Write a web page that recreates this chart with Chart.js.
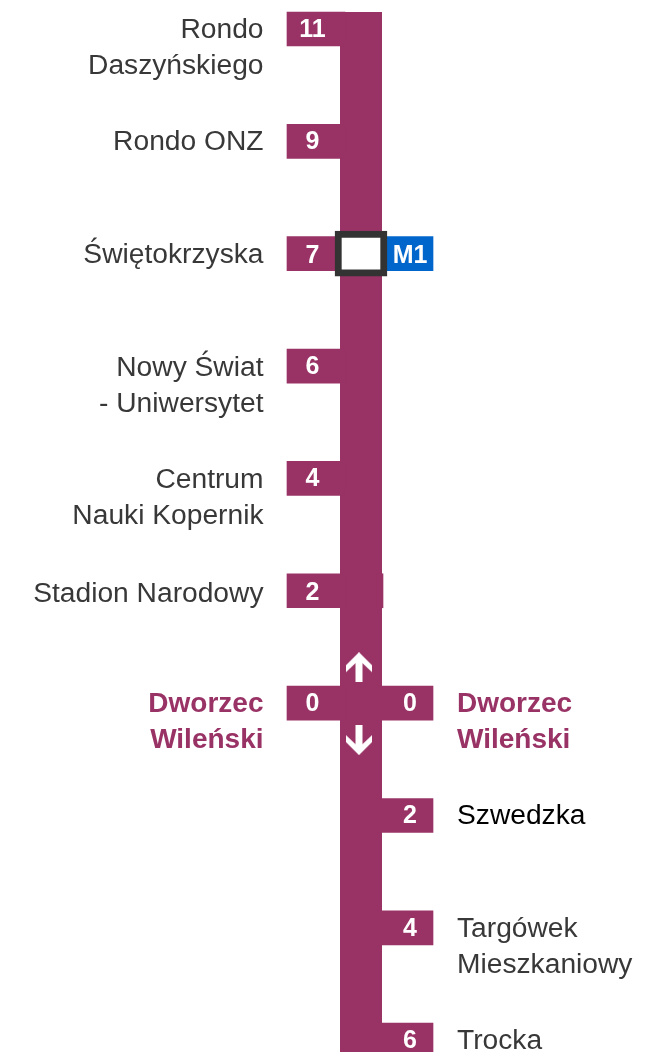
<!DOCTYPE html>
<html>
<head>
<meta charset="utf-8">
<title>Linia M2</title>
<script src="https://cdn.jsdelivr.net/npm/chart.js@4"></script>
<style>
    html, body { margin: 0; padding: 0; background: #fff; }
    canvas { display: block; }
</style>
</head>
<body>
<canvas id="grafico" width="659" height="1052"></canvas>
<script>
// Stops from top to bottom, y position is the index in these arrays
const paradas = [
    ['Rondo', 'Daszyńskiego'],
    ['Rondo ONZ'],
    ['Świętokrzyska'],
    ['Nowy Świat', '- Uniwersytet'],
    ['Centrum', 'Nauki Kopernik'],
    ['Stadion Narodowy'],
    ['Dworzec', 'Wileński'],
    ['Szwedzka'],
    ['Targówek', 'Mieszkaniowy'],
    ['Trocka']
];
// Minutes from Dworzec Wileński in each direction
const minutosOeste = [11, 9, 7, 6, 4, 2, 0, null, null, null];
const minutosEste = [null, null, null, null, null, null, 0, 2, 4, 6];
const paradaTerminal = 6;
const paradaCambio = 2;
const lineaCambio = 'M1';
const lineaExtremos = [-0.151, 9.2];
const flechas = [5.68, 6.33];

const morado = '#993366';
const azul = '#0066cc';
const oscuro = '#383838';

// small vertical nudges for the labels, in pixels
const ajusteTexto = [0, 0, 1, 1, 1, 2, 0, 0, 0, 0];
const ajusteNumero = [0, 0, 1, 0, 0, 1, 0, 0, 0, 0];

const iconoFlecha = document.createElement('canvas');
iconoFlecha.width = 26;
iconoFlecha.height = 30;
const ic = iconoFlecha.getContext('2d');
ic.fillStyle = '#fff';
ic.beginPath();
[[13, 0], [26, 13], [26, 20], [16.5, 11], [16.5, 30], [9.5, 30], [9.5, 11], [0, 20], [0, 13]]
    .forEach(p => ic.lineTo(p[0], p[1]));
ic.closePath();
ic.fill();

function tramos(minutos, desde, hasta) {
    const salida = [];
    minutos.forEach((m, i) => {
        if (m !== null) salida.push({ x: [desde, hasta], y: i });
    });
    return salida;
}

const textos = {
    id: 'textos',
    afterDatasetsDraw(chart) {
        const ctx = chart.ctx;
        const y = chart.scales.y;
        ctx.save();
        ctx.textBaseline = 'middle';

        paradas.forEach((lineas, i) => {
            const yPos = y.getPixelForValue(i) + ajusteTexto[i];
            const terminal = i === paradaTerminal;
            ctx.font = terminal ? 'bold 28px "Liberation Sans"' : '28.2px "Liberation Sans"';
            ctx.fillStyle = terminal ? morado : (i === 7 ? '#000' : oscuro);
            if (minutosOeste[i] !== null) {
                ctx.textAlign = 'right';
                lineas.forEach((t, n) => ctx.fillText(t, 263.5, yPos + 1 + n * 36));
            }
            if (minutosEste[i] !== null) {
                ctx.textAlign = 'left';
                lineas.forEach((t, n) => ctx.fillText(t, 457, yPos + 1 + n * 36));
            }
        });

        ctx.font = 'bold 25px "Liberation Sans"';
        ctx.fillStyle = '#fff';
        ctx.textAlign = 'center';
        minutosOeste.forEach((m, i) => {
            if (m !== null) ctx.fillText(String(m), 312.5, y.getPixelForValue(i) + 1 + ajusteNumero[i]);
        });
        minutosEste.forEach((m, i) => {
            if (m !== null) ctx.fillText(String(m), 410, y.getPixelForValue(i) + 1);
        });
        ctx.fillText(lineaCambio, 410, y.getPixelForValue(paradaCambio) + 1 + ajusteNumero[paradaCambio]);
        ctx.restore();
    }
};

new Chart(document.getElementById('grafico').getContext('2d'), {
    type: 'bar',
    data: {
        datasets: [
            {
                type: 'line',
                data: lineaExtremos.map(v => ({ x: 361, y: v })),
                borderColor: morado,
                borderWidth: 42,
                borderCapStyle: 'butt',
                pointRadius: 0,
                order: 6
            },
            {
                data: tramos(minutosOeste, 287, 345),
                backgroundColor: morado,
                barThickness: 34,
                grouped: false,
                order: 5
            },
            {
                data: tramos(minutosEste, 377, 433),
                backgroundColor: morado,
                barThickness: 34,
                grouped: false,
                order: 5
            },
            {
                data: [{ x: [377, 383], y: 5 }],
                backgroundColor: morado,
                barThickness: 34,
                grouped: false,
                order: 5
            },
            {
                data: [{ x: [387, 433], y: paradaCambio }],
                backgroundColor: azul,
                barThickness: 34,
                grouped: false,
                order: 4
            },
            {
                data: [{ x: [335, 387], y: paradaCambio }],
                backgroundColor: '#fff',
                borderColor: '#333',
                borderWidth: 7,
                borderSkipped: false,
                barThickness: 45,
                grouped: false,
                order: 3
            },
            {
                type: 'scatter',
                data: [{ x: 359, y: flechas[0] }],
                pointStyle: iconoFlecha,
                pointRadius: 13,
                order: 1
            },
            {
                type: 'scatter',
                data: [{ x: 359, y: flechas[1] }],
                pointStyle: iconoFlecha,
                pointRadius: 13,
                pointRotation: 180,
                order: 1
            }
        ]
    },
    options: {
        indexAxis: 'y',
        responsive: false,
        animation: false,
        layout: { padding: 0, autoPadding: false },
        plugins: {
            legend: { display: false },
            title: { display: false },
            tooltip: { enabled: false }
        },
        scales: {
            x: { type: 'linear', min: 0, max: 659, display: false, offset: false },
            y: { type: 'linear', reverse: true, min: -0.258, max: 9.105, display: false, offset: false }
        }
    },
    plugins: [textos]
});
</script>
</body>
</html>
